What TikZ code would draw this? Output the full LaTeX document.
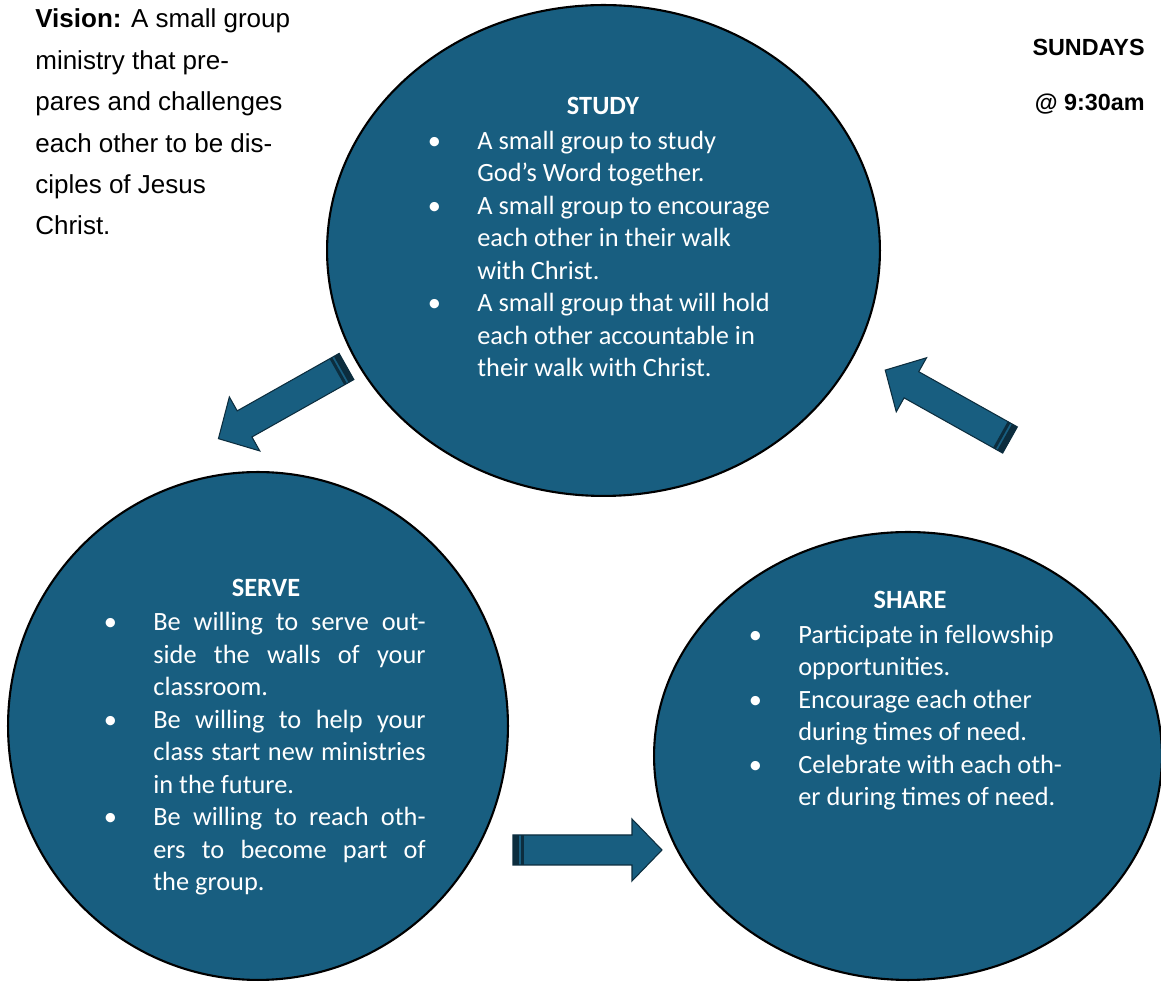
\documentclass[tikz,border=0pt]{standalone}
\usepackage{fontspec}
\setmainfont{Liberation Sans}
\newfontfamily\carlito{Carlito}
\usetikzlibrary{shapes.geometric}
\definecolor{cycleblue}{RGB}{24,94,128}
\definecolor{stripedark}{RGB}{12,45,62}
\newcommand\bul{\llap{\makebox[0pt]{\textbullet}\hspace{24.4pt}}}
\newcommand\jline[1]{\makebox[155pt][s]{#1}}
\newcommand\blockarrow[3]{%
    \begin{scope}[shift={(#1)}, rotate=#2]
        \draw[arrow body] (0,-15) -- (#3-30,-15) -- (#3-30,-31) -- (#3,0)
            -- (#3-30,31) -- (#3-30,15) -- (0,15) -- cycle;
        \fill[stripe] (0,-15) rectangle (6,15);
        \fill[stripe] (8,-15) rectangle (11,15);
    \end{scope}}
\tikzset{
    ring/.style = {
        ellipse,
        draw = black,
        fill = cycleblue,
        line width = 1.2pt,
        },
    arrow body/.style = {
        draw = stripedark,
        fill = cycleblue,
        line width = 0.6pt,
        },
    stripe/.style = {
        fill = stripedark,
        },
    heading/.style = {
        font = \carlito\bfseries\fontsize{15}{18.5}\selectfont,
        text = white,
        inner sep = 0,
        anchor = base,
        },
    items/.style = {
        font = \carlito\fontsize{15}{18.5}\selectfont,
        text = white,
        align = left,
        inner sep = 0,
        anchor = base west,
        },
    side note/.style = {
        font = \fontsize{14.8}{23.6}\selectfont,
        align = left,
        inner sep = 0,
        anchor = base west,
        },
    day/.style = {
        font = \bfseries\fontsize{13.3}{16}\selectfont,
        inner sep = 0,
        anchor = base east,
        }
}

\begin{document}
\begin{tikzpicture}[x=0.02cm, y=-0.02cm]
    \useasboundingbox (0,0) rectangle (1161,982);

    \node[ring, minimum width=11.06cm, minimum height=9.82cm] (study) at (603.5,250.5) {};
    \node[ring, minimum width=10cm, minimum height=10.16cm] (serve) at (258,726) {};
    \node[ring, minimum width=10.16cm, minimum height=8.96cm] (share) at (908,756) {};

    \coordinate (toserve) at (346.5,366.5);
    \coordinate (toshare) at (513,850);
    \coordinate (tostudy) at (1010,440);
    \blockarrow{toserve}{209.4}{147}
    \blockarrow{toshare}{0}{149}
    \blockarrow{tostudy}{150.75}{143}

    % base anchor sits on the last line
    \node[side note] (vision) at (35,235) {\textbf{Vision:} A small group\\ministry that pre-\\pares and challenges\\each other to be dis-\\ciples of Jesus\\Christ.};
    \node[day] (sundays) at (1145,56) {SUNDAYS};
    \node[day] (time) at (1145,111) {@ 9:30am};

    \node[heading] (study title) at (603,115) {STUDY};
    \node[items] (study list) at (477,377) {\bul A small group to study\\God’s Word together.\\\bul A small group to encourage\\each other in their walk\\with Christ.\\\bul A small group that will hold\\each other accountable in\\their walk with Christ.};

    \node[heading] (serve title) at (266,597) {SERVE};
    \node[items] (serve list) at (153,891) {\bul\jline{Be willing to serve out-}\\\jline{side the walls of your}\\classroom.\\\bul\jline{Be willing to help your}\\\jline{class start new ministries}\\in the future.\\\bul\jline{Be willing to reach oth-}\\\jline{ers to become part of}\\the group.};

    \node[heading] (share title) at (910,609) {SHARE};
    \node[items] (share list) at (798,806) {\bul Participate in fellowship\\opportunities.\\\bul Encourage each other\\during times of need.\\\bul Celebrate with each oth-\\er during times of need.};
\end{tikzpicture}
\end{document}
